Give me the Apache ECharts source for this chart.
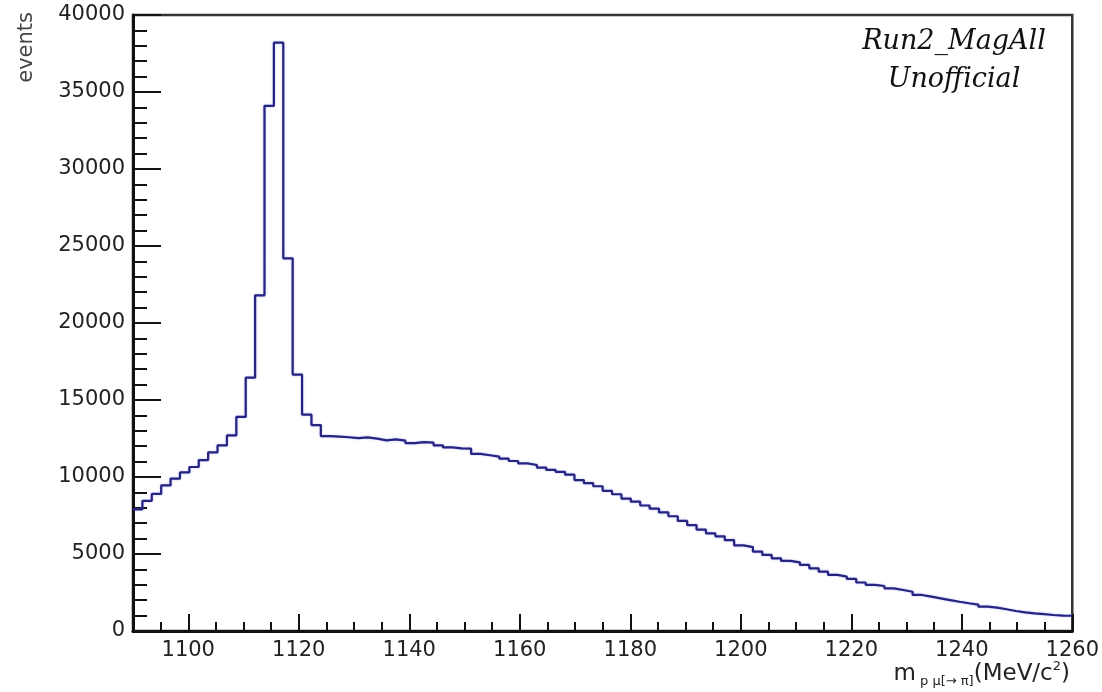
<!DOCTYPE html>
<html>
<head>
<meta charset="utf-8">
<script src="https://cdn.jsdelivr.net/npm/echarts@6/dist/echarts.min.js"></script>
<style>
html,body{margin:0;padding:0;background:#fff;}
#c{width:1102px;height:692px;}
</style>
</head>
<body>
<div id="c"></div>
<script>
// ---- data ----
const binLow = 1090;      // lower edge of first bin (MeV/c^2)
const binWidth = 1.7;     // bin width (MeV/c^2)
const counts = [
  7900, 8450, 8900, 9450, 9900, 10300, 10650, 11100, 11600, 12050,
  12700, 13900, 16450, 21800, 34100, 38200, 24200, 16650, 14050, 13370,
  12650, 12620, 12580, 12530, 12570, 12490, 12380, 12440, 12360, 12200,
  12270, 12230, 12060, 11920, 11860, 11840, 11500, 11410, 11320, 11190,
  11040, 10890, 10780, 10610, 10460, 10330, 10150, 9800, 9600, 9400,
  9100, 8880, 8600, 8400, 8150, 7950, 7700, 7450, 7150, 6880,
  6580, 6340, 6150, 5900, 5560, 5450, 5150, 4940, 4720, 4550,
  4460, 4290, 4070, 3850, 3640, 3530, 3380, 3150, 3000, 2920,
  2770, 2660, 2550, 2340, 2230, 2120, 2010, 1900, 1800, 1710,
  1580, 1515, 1410, 1300, 1210, 1150, 1100, 1040, 1000, 990
];
const xMin = 1090, xMax = 1260;
const xMajorTicks = [1100, 1120, 1140, 1160, 1180, 1200, 1220, 1240, 1260];
const yMin = 0, yMax = 40000, yMajorStep = 5000;
const yTitle = 'events';
const xTitleParts = ['m', ' p μ[→ π]', '(MeV/c', '2', ')'];
const annotationLines = ['Run2_MagAll', 'Unofficial'];

// ---- build step-histogram points from bin edges ----
const histData = counts.map((v, i) => [+(binLow + i * binWidth).toFixed(3), v]);
histData.push([+(binLow + counts.length * binWidth).toFixed(3), counts[counts.length - 1]]);

const FONT = 'DejaVu Sans';
const plain = v => String(v);
const chart = echarts.init(document.getElementById('c'), null, {renderer: 'canvas'});
chart.setOption({
  animation: false,
  backgroundColor: '#ffffff',
  grid: {
    left: 133, right: 29, top: 15, bottom: 61,
    show: true, borderColor: '#333', borderWidth: 2.5, backgroundColor: 'transparent'
  },
  xAxis: [
    {
      type: 'value', position: 'bottom', min: xMin, max: xMax, interval: 5,
      axisLine: {show: true, onZero: false, lineStyle: {color: '#111', width: 3}},
      axisTick: {show: true, inside: true, length: 9, lineStyle: {color: '#111', width: 2}},
      axisLabel: {show: false},
      splitLine: {show: false}
    },
    {
      type: 'value', position: 'bottom', min: xMin, max: xMax,
      axisLine: {show: false, onZero: false},
      axisTick: {show: true, inside: true, length: 17, customValues: xMajorTicks,
                 lineStyle: {color: '#111', width: 2}},
      axisLabel: {show: true, customValues: xMajorTicks, margin: 9, fontSize: 21,
                  fontFamily: FONT, color: '#222', formatter: plain},
      splitLine: {show: false}
    }
  ],
  yAxis: {
    type: 'value', min: yMin, max: yMax, interval: yMajorStep,
    axisLine: {show: true, lineStyle: {color: '#111', width: 3}},
    axisTick: {show: true, inside: true, length: 28, lineStyle: {color: '#111', width: 2}},
    minorTick: {show: true, splitNumber: 5, length: 14, lineStyle: {color: '#111', width: 2}},
    axisLabel: {margin: 8, fontSize: 21, fontFamily: FONT, color: '#222', padding: [6, 0, 0, 0],
                formatter: plain},
    splitLine: {show: false},
    minorSplitLine: {show: false}
  },
  series: [{
    type: 'line', step: 'end', xAxisIndex: 0, yAxisIndex: 0,
    data: histData, showSymbol: false, symbol: 'none',
    lineStyle: {color: '#25257f', width: 2.2, shadowColor: 'rgba(90,90,255,0.45)', shadowBlur: 2}
  }],
  graphic: [
    {
      type: 'text', x: 27, y: 12, rotation: Math.PI / 2,
      style: {text: yTitle, fontSize: 21, fontFamily: FONT, fill: '#444',
              align: 'right', verticalAlign: 'middle'}
    },
    {
      type: 'text', x: 1070, y: 674,
      style: {
        text: '{a|' + xTitleParts[0] + '}{s|' + xTitleParts[1] + '}{a|' + xTitleParts[2] +
              '}{p|' + xTitleParts[3] + '}{a|' + xTitleParts[4] + '}',
        align: 'right', verticalAlign: 'middle',
        rich: {
          a: {fontSize: 23, fontFamily: FONT, fill: '#222'},
          s: {fontSize: 13, fontFamily: FONT, fill: '#222', padding: [16, 0, 0, 0]},
          p: {fontSize: 13, fontFamily: FONT, fill: '#222', padding: [0, 0, 14, 0]}
        }
      }
    },
    {
      type: 'text', x: 954, y: 42,
      style: {text: annotationLines[0], fontSize: 27, fontStyle: 'italic',
              fontFamily: 'DejaVu Serif', fill: '#111', align: 'center', verticalAlign: 'middle'}
    },
    {
      type: 'text', x: 954, y: 80,
      style: {text: annotationLines[1], fontSize: 27, fontStyle: 'italic',
              fontFamily: 'DejaVu Serif', fill: '#111', align: 'center', verticalAlign: 'middle'}
    }
  ]
});
</script>
</body>
</html>
